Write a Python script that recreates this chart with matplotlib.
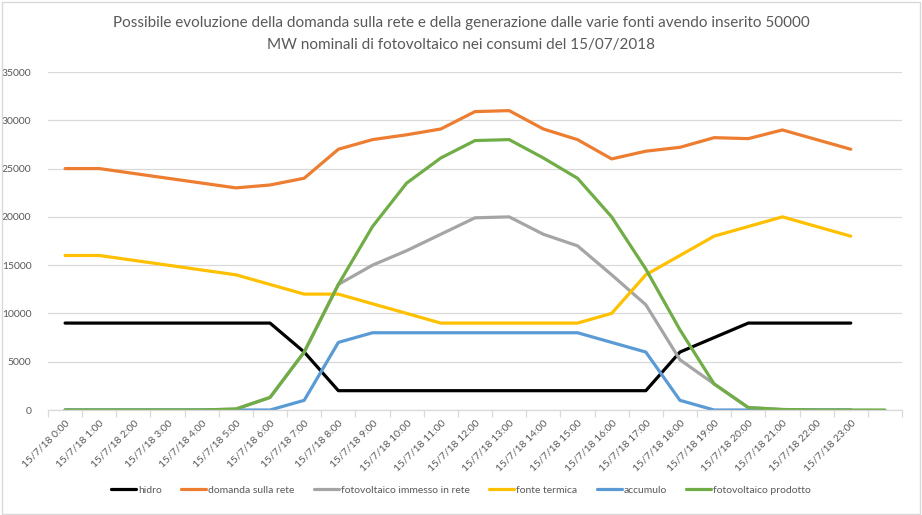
import matplotlib
matplotlib.use('Agg')
import matplotlib.pyplot as plt
from matplotlib.patches import Rectangle

# === DATA (MW, 15/07/2018) ===
ore = [f'15/7/18 {h}:00' for h in range(24)] + ['']
hidro = [9000, 9000, 9000, 9000, 9000, 9000, 9000, 6000, 2000, 2000, 2000, 2000,
         2000, 2000, 2000, 2000, 2000, 2000, 6000, 7500, 9000, 9000, 9000, 9000]
domanda = [25000, 25000, 24500, 24000, 23500, 23000, 23300, 24000, 27000, 28000, 28500, 29100,
           30900, 31000, 29100, 28000, 26000, 26800, 27200, 28200, 28100, 29000, 28000, 27000]
fv_immesso = [0, 0, 0, 0, 0, 100, 1300, 6000, 13000, 15000, 16500, 18200,
              19900, 20000, 18200, 17000, 14000, 10900, 5200, 2700, 250, 50, 0, 0]
termica = [16000, 16000, 15500, 15000, 14500, 14000, 13000, 12000, 12000, 11000, 10000, 9000,
           9000, 9000, 9000, 9000, 10000, 14000, 16000, 18000, 19000, 20000, 19000, 18000]
accumulo = [0, 0, 0, 0, 0, 0, 0, 1000, 7000, 8000, 8000, 8000,
            8000, 8000, 8000, 8000, 7000, 6000, 1000, 0, 0, 0, 0, 0]
fv_prodotto = [0, 0, 0, 0, 0, 100, 1300, 6000, 13000, 19000, 23500, 26100,
               27900, 28000, 26100, 24000, 20000, 14600, 8300, 2700, 250, 50, 0, 0, 0]

serie = [
    ('hidro', hidro, '#000000'),
    ('domanda sulla rete', domanda, '#ED7D31'),
    ('fotovoltaico immesso in rete', fv_immesso, '#A5A5A5'),
    ('fonte termica', termica, '#FFC000'),
    ('accumulo', accumulo, '#5B9BD5'),
    ('fotovoltaico prodotto', fv_prodotto, '#70AD47'),
]

plt.rcParams['font.family'] = ['Lato', 'DejaVu Sans']
txt = '#595959'

fig = plt.figure(figsize=(9.22, 5.15), dpi=100)
fig.patches.append(Rectangle((0.002, 0.002), 0.996, 0.994, transform=fig.transFigure,
                             fill=False, edgecolor='#d9d9d9', linewidth=1.0))
ax = fig.add_axes([48/922, 1 - 410/515, (902-48)/922, (410-72)/515])

for nome, vals, col in serie:
    ax.plot(range(len(vals)), vals, color=col, linewidth=2.3, label=nome,
            solid_joinstyle='round', solid_capstyle='round')

ax.set_xlim(-0.5, 24.5)
ax.set_ylim(0, 35000)
ax.set_yticks(range(0, 35001, 5000))
ax.grid(axis='y', color='#d9d9d9', linewidth=0.9)
ax.set_axisbelow(True)
for s in ['top', 'right', 'left']:
    ax.spines[s].set_visible(False)
ax.spines['bottom'].set_color('#d9d9d9')
ax.spines['bottom'].set_linewidth(0.9)

ax.set_xticks(range(25))
ax.set_xticklabels(ore, rotation=45, ha='right', rotation_mode='anchor',
                   fontsize=7.5, color=txt)
ax.tick_params(axis='x', which='major', length=0, pad=6)
ax.set_xticks([i - 0.5 for i in range(26)], minor=True)
ax.tick_params(axis='x', which='minor', length=5, color='#d9d9d9', width=0.9)
ax.tick_params(axis='y', length=0, labelsize=7.5, labelcolor=txt, pad=12)

fig.text(0.5, 1 - 34/515,
         'Possibile evoluzione della domanda sulla rete e della generazione dalle varie fonti avendo inserito 50000\n'
         'MW nominali di fotovoltaico nei consumi del 15/07/2018',
         ha='center', va='center', fontsize=11, color=txt, linespacing=1.75)

fig.legend(loc='center', bbox_to_anchor=(0.5, 1 - 490/515), ncol=6, frameon=False,
           fontsize=7.5, labelcolor=txt, handlelength=2.4, handletextpad=0.15,
           columnspacing=1.9)

fig.savefig('out.png', dpi=100, facecolor='white')
